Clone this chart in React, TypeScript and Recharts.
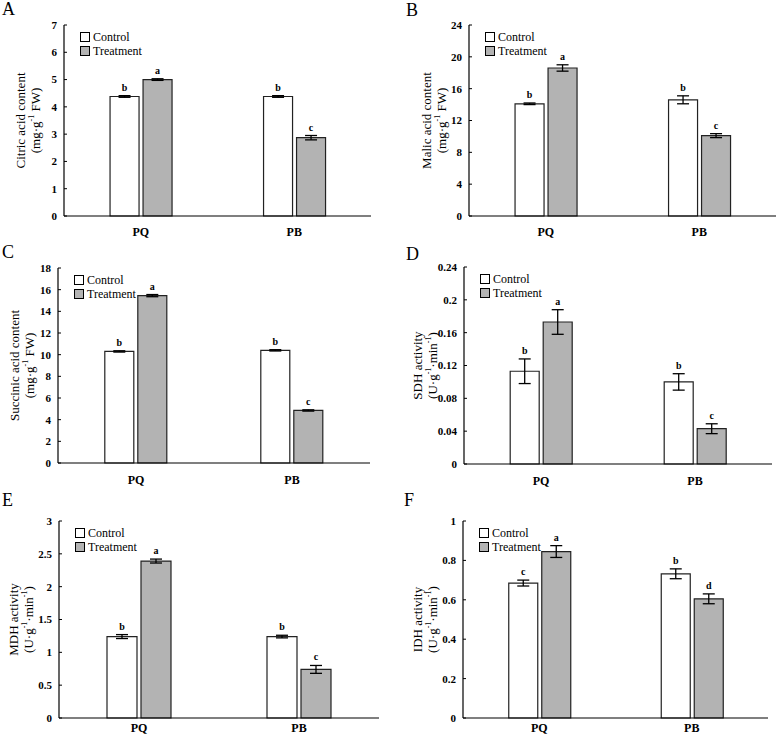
import React from "react";
import { BarChart, Bar, XAxis, YAxis, ErrorBar, LabelList, Legend } from "recharts";

const FONT = '"Liberation Serif", "Times New Roman", serif';

const categories = ["PQ", "PB"];

// A - citric acid
const citricControl = [4.38, 4.38];
const citricControlErr = [0.03, 0.03];
const citricTreat = [5.0, 2.87];
const citricTreatErr = [0.03, 0.08];
const citricControlSig = ["b", "b"];
const citricTreatSig = ["a", "c"];
const citricTicks = [0, 1, 2, 3, 4, 5, 6, 7];

// B - malic acid
const malicControl = [14.1, 14.6];
const malicControlErr = [0.1, 0.5];
const malicTreat = [18.6, 10.1];
const malicTreatErr = [0.4, 0.25];
const malicControlSig = ["b", "b"];
const malicTreatSig = ["a", "c"];
const malicTicks = [0, 4, 8, 12, 16, 20, 24];

// C - succinic acid
const succControl = [10.3, 10.4];
const succControlErr = [0.06, 0.06];
const succTreat = [15.45, 4.85];
const succTreatErr = [0.1, 0.06];
const succControlSig = ["b", "b"];
const succTreatSig = ["a", "c"];
const succTicks = [0, 2, 4, 6, 8, 10, 12, 14, 16, 18];

// D - SDH
const sdhControl = [0.113, 0.1];
const sdhControlErr = [0.015, 0.01];
const sdhTreat = [0.173, 0.043];
const sdhTreatErr = [0.015, 0.006];
const sdhControlSig = ["b", "b"];
const sdhTreatSig = ["a", "c"];
const sdhTicks = [0, 0.04, 0.08, 0.12, 0.16, 0.2, 0.24];

// E - MDH
const mdhControl = [1.24, 1.24];
const mdhControlErr = [0.03, 0.02];
const mdhTreat = [2.39, 0.74];
const mdhTreatErr = [0.03, 0.06];
const mdhControlSig = ["b", "b"];
const mdhTreatSig = ["a", "c"];
const mdhTicks = [0, 0.5, 1, 1.5, 2, 2.5, 3];

// F - IDH
const idhControl = [0.685, 0.732];
const idhControlErr = [0.015, 0.025];
const idhTreat = [0.845, 0.605];
const idhTreatErr = [0.03, 0.025];
const idhControlSig = ["c", "b"];
const idhTreatSig = ["a", "d"];
const idhTicks = [0, 0.2, 0.4, 0.6, 0.8, 1];

const mgUnit = [{ t: "(mg·g" }, { t: "-1", sup: true }, { t: " FW)" }];
const actUnit = [{ t: "(U·g" }, { t: "-1", sup: true }, { t: "·min" }, { t: "-1", sup: true }, { t: ")" }];

const panels = [
  { letter: "A", x: 0, y: 0, w: 388, h: 240, plot: [64, 25, 371, 216], labelX: [20, 35], letterPos: [2, 0], gap: 11,
    title: "Citric acid content", unit: mgUnit, ticks: citricTicks,
    c: citricControl, ce: citricControlErr, t: citricTreat, te: citricTreatErr, cs: citricControlSig, ts: citricTreatSig },
  { letter: "B", x: 390, y: 0, w: 388, h: 240, plot: [469, 25, 776, 216], labelX: [36, 51], letterPos: [406, 1], gap: 11,
    title: "Malic acid content", unit: mgUnit, ticks: malicTicks,
    c: malicControl, ce: malicControlErr, t: malicTreat, te: malicTreatErr, cs: malicControlSig, ts: malicTreatSig },
  { letter: "C", x: 0, y: 240, w: 388, h: 250, plot: [58, 268, 370, 463], labelX: [14, 29], letterPos: [2, 243], gap: 12,
    title: "Succinic acid content", unit: mgUnit, ticks: succTicks,
    c: succControl, ce: succControlErr, t: succTreat, te: succTreatErr, cs: succControlSig, ts: succTreatSig },
  { letter: "D", x: 390, y: 240, w: 388, h: 250, plot: [464, 267, 772, 464], labelX: [27, 42], letterPos: [406, 245], gap: 12,
    title: "SDH activity", unit: actUnit, ticks: sdhTicks,
    c: sdhControl, ce: sdhControlErr, t: sdhTreat, te: sdhTreatErr, cs: sdhControlSig, ts: sdhTreatSig },
  { letter: "E", x: 0, y: 490, w: 388, h: 247, plot: [59, 521, 379, 718], labelX: [13, 28], letterPos: [2, 491], gap: 5,
    title: "MDH activity", unit: actUnit, ticks: mdhTicks,
    c: mdhControl, ce: mdhControlErr, t: mdhTreat, te: mdhTreatErr, cs: mdhControlSig, ts: mdhTreatSig },
  { letter: "F", x: 390, y: 490, w: 388, h: 247, plot: [463, 521, 768, 718], labelX: [27, 42], letterPos: [404, 491], gap: 5,
    title: "IDH activity", unit: actUnit, ticks: idhTicks,
    c: idhControl, ce: idhControlErr, t: idhTreat, te: idhTreatErr, cs: idhControlSig, ts: idhTreatSig },
];

const sigLabel = (sig: string[], err: number[], vals: number[]) => (p: any) => {
  const { x, y, width, height, index } = p;
  const v = vals[index];
  const px = v ? (height / v) * err[index] : 0;
  return (
    <text x={x + width / 2} y={y - px - 5} textAnchor="middle" fontSize={10} fontWeight="bold" fontFamily={FONT} fill="#000">
      {sig[index]}
    </text>
  );
};

const legendContent = (props: any) => (
  <div style={{ fontFamily: FONT, fontSize: 12, lineHeight: "14px", color: "#000" }}>
    {(props.payload || []).map((e: any) => (
      <div key={e.value} style={{ display: "flex", alignItems: "center", whiteSpace: "nowrap" }}>
        <span style={{ display: "inline-block", width: 8, height: 8, border: "1px solid #000", background: e.color, marginRight: 3 }} />
        {e.value}
      </div>
    ))}
  </div>
);

function Panel({ p }: { p: any }) {
  const [pl, pt, pr, pb] = p.plot;
  const xh = 18;
  const data = categories.map((cat, i) => ({
    cat, control: p.c[i], controlErr: p.ce[i], treat: p.t[i], treatErr: p.te[i],
  }));
  const yLabel = () => {
    const cy = pt - p.y + (pb - pt) / 2;
    const [x1, x2] = p.labelX;
    return (
      <g fontFamily={FONT} fontSize={13} fill="#000">
        <text x={x1} y={cy} textAnchor="middle" dominantBaseline="central" transform={`rotate(-90, ${x1}, ${cy})`}>
          {p.title}
        </text>
        <text x={x2} y={cy} textAnchor="middle" dominantBaseline="central" transform={`rotate(-90, ${x2}, ${cy})`}>
          {p.unit.map((s: any, i: number) =>
            s.sup ? (
              <tspan key={i} fontSize={8} dy={-4}>{s.t}</tspan>
            ) : (
              <tspan key={i} dy={i > 0 && p.unit[i - 1].sup ? 4 : 0}>{s.t}</tspan>
            )
          )}
        </text>
      </g>
    );
  };
  return (
    <div style={{ position: "absolute", left: p.x, top: p.y }}>
      <BarChart
        width={p.w}
        height={p.h}
        data={data}
        barCategoryGap="30%"
        barGap={4}
        margin={{ top: pt - p.y, left: 0, right: p.x + p.w - pr, bottom: p.y + p.h - pb - xh }}
      >
        <XAxis
          xAxisId="mid"
          type="number"
          domain={[0, 2]}
          ticks={[1]}
          tickFormatter={() => ""}
          axisLine={false}
          tickSize={-4}
          tickLine={{ stroke: "#000" }}
          height={0}
        />
        <XAxis
          dataKey="cat"
          axisLine={{ stroke: "#000", strokeWidth: 1.2 }}
          tickLine={false}
          tickSize={0}
          tickMargin={p.gap}
          height={xh}
          tick={{ fontSize: 12, fontWeight: "bold", fill: "#000", fontFamily: FONT }}
        />
        <XAxis xAxisId="top" orientation="top" dataKey="cat" tick={false} tickLine={false} height={0} axisLine={{ stroke: "#000", strokeWidth: 1.2 }} />
        <YAxis
          domain={[0, p.ticks[p.ticks.length - 1]]}
          ticks={p.ticks}
          interval={0}
          width={pl - p.x}
          tickSize={-3}
          tickMargin={10}
          axisLine={{ stroke: "#000", strokeWidth: 1.2 }}
          tickLine={{ stroke: "#000" }}
          tickFormatter={(v: number) => String(v)}
          tick={{ fontSize: 11, fontWeight: "bold", fill: "#000", fontFamily: FONT }}
          label={{ content: yLabel }}
        />
        <YAxis yAxisId="right" orientation="right" tick={false} tickLine={false} width={0} axisLine={{ stroke: "#000", strokeWidth: 1.2 }} />
        <Legend
          layout="vertical"
          verticalAlign="middle"
          align="center"
          content={legendContent}
          wrapperStyle={{ left: pl - p.x + 16, top: pt - p.y + 5, width: "auto", height: "auto" }}
        />
        <Bar dataKey="control" name="Control" fill="#ffffff" stroke="#222" strokeWidth={1.2} isAnimationActive={false}>
          <ErrorBar dataKey="controlErr" width={6} stroke="#000" strokeWidth={1.3} direction="y" />
          <LabelList dataKey="control" content={sigLabel(p.cs, p.ce, p.c)} />
        </Bar>
        <Bar dataKey="treat" name="Treatment" fill="#b3b3b3" stroke="#222" strokeWidth={1.2} isAnimationActive={false}>
          <ErrorBar dataKey="treatErr" width={6} stroke="#000" strokeWidth={1.3} direction="y" />
          <LabelList dataKey="treat" content={sigLabel(p.ts, p.te, p.t)} />
        </Bar>
      </BarChart>
    </div>
  );
}

export default function App() {
  return (
    <div style={{ position: "absolute", left: 0, top: 0, width: 778, height: 737, background: "#fff" }}>
      {panels.map((p) => (
        <React.Fragment key={p.letter}>
          <div
            style={{
              position: "absolute",
              left: p.letterPos[0],
              top: p.letterPos[1],
              fontFamily: FONT,
              fontSize: 18,
              lineHeight: "18px",
              color: "#000",
            }}
          >
            {p.letter}
          </div>
          <Panel p={p} />
        </React.Fragment>
      ))}
    </div>
  );
}
